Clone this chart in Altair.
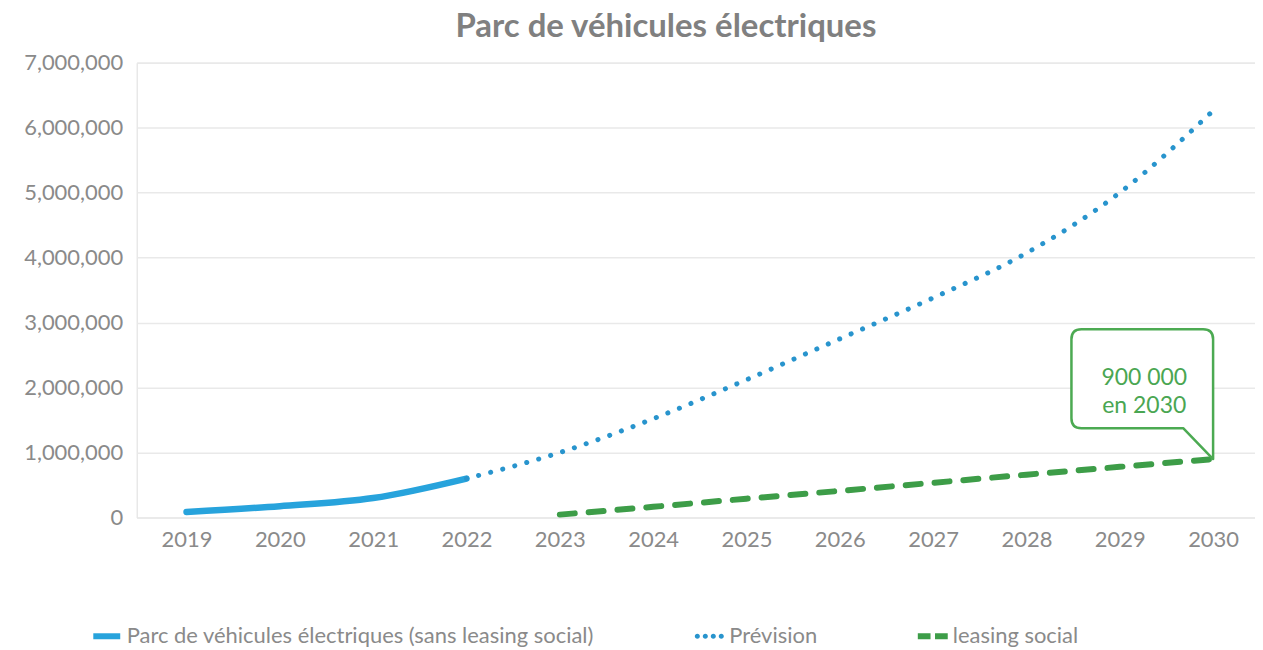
import altair as alt
import pandas as pd

# ---------------- data ----------------
title_text = "Parc de véhicules électriques"

series_names = [
    "Parc de véhicules électriques (sans leasing social)",
    "Prévision",
    "leasing social",
]
series_colors = ["#27a3dc", "#2894cd", "#3d9d48"]

hist_years = [2019, 2020, 2021, 2022]
hist_values = [85000, 175000, 300000, 600000]

prev_years = [2022, 2023, 2024, 2025, 2026, 2027, 2028, 2029, 2030]
prev_values = [600000, 1000000, 1520000, 2120000, 2750000, 3380000, 4070000, 5000000, 6260000]

leasing_years = [2023, 2024, 2025, 2026, 2027, 2028, 2029, 2030]
leasing_values = [45000, 165000, 290000, 410000, 535000, 660000, 780000, 900000]

note_years = [2030]
note_values = [900000]
note_texts = ["900 000\nen 2030"]

year_ticks = [2019, 2020, 2021, 2022, 2023, 2024, 2025, 2026, 2027, 2028, 2029, 2030]
value_ticks = [0, 1000000, 2000000, 3000000, 4000000, 5000000, 6000000, 7000000]

# ---------------- styling ----------------
FONT = "Lato"
GRAY = "#8a8a8a"
GREEN_BOX = "#4caa52"

hist_df = pd.DataFrame({"year": hist_years, "value": hist_values})
prev_df = pd.DataFrame({"year": prev_years, "value": prev_values})
leasing_df = pd.DataFrame({"year": leasing_years, "value": leasing_values})
note_df = pd.DataFrame({"year": note_years, "value": note_values, "label": note_texts})
legend_df = pd.DataFrame({"series": series_names})

x_scale = alt.Scale(domain=[2018.466, 2030.449], nice=False, zero=False)
y_scale = alt.Scale(domain=[0, 7000000], nice=False)

x_axis = alt.Axis(values=year_ticks, format="d", ticks=False, domain=False, grid=False,
                  labelPadding=12, labelFlush=False, labelOverlap=False,
                  labelFont=FONT, labelFontSize=22, labelColor=GRAY)
y_axis = alt.Axis(values=value_ticks, format=",d", ticks=False, domain=False, grid=True,
                  gridColor="#e9e9e9", gridWidth=1.5, labelPadding=14,
                  labelFont=FONT, labelFontSize=22, labelColor=GRAY)

X = alt.X("year:Q", scale=x_scale, axis=x_axis, title=None)
Y = alt.Y("value:Q", scale=y_scale, axis=y_axis, title=None)

hist_line = alt.Chart(hist_df).mark_line(
    color=series_colors[0], strokeWidth=6.5, strokeCap="round", interpolate="monotone"
).encode(x=X, y=Y)

prev_line = alt.Chart(prev_df).mark_line(
    color=series_colors[1], strokeWidth=5, strokeCap="round", strokeDash=[0.1, 12.4],
    interpolate="monotone"
).encode(x=X, y=Y)

leasing_line = alt.Chart(leasing_df).mark_line(
    color=series_colors[2], strokeWidth=6, strokeCap="round", strokeDash=[15, 14]
).encode(x=X, y=Y)

# speech-bubble callout anchored at the 2030 leasing value (tip of the bubble = data point)
bubble_path = ("M -13.2,-13.0 L -1.0,-13.0 Q 0,-13.0 0,-12.0 L 0,0 L -3.0,-3.1 "
               "L -13.2,-3.1 Q -14.2,-3.1 -14.2,-4.1 L -14.2,-12.0 Q -14.2,-13.0 -13.2,-13.0 Z")
bubble = alt.Chart(note_df).mark_point(
    shape=bubble_path, size=400, filled=True, fill="white", stroke=GREEN_BOX,
    strokeWidth=2.5, opacity=1, fillOpacity=1, strokeOpacity=1, strokeJoin="round"
).encode(x=X, y=Y)

bubble_text = alt.Chart(note_df).mark_text(
    font=FONT, fontSize=23, color="#4aa652", lineBreak="\n", lineHeight=28,
    align="center", baseline="middle", dx=-69, dy=-81
).encode(x=X, y=Y, text="label:N")

# legend symbols: solid bar, four dots, two dashes
def circle(cx, r):
    return (f"M {cx - r},0 A {r},{r} 0 1,0 {cx + r},0 A {r},{r} 0 1,0 {cx - r},0 Z")

solid_sym = "M -0.9,-0.2 L 0.9,-0.2 L 0.9,0.2 L -0.9,0.2 Z"
dots_sym = " ".join(circle(c, 0.17) for c in [-0.8, -0.267, 0.267, 0.8])
dash_sym = "M -1.0,-0.2 L -0.15,-0.2 L -0.15,0.2 L -1.0,0.2 Z M 0.15,-0.2 L 1.0,-0.2 L 1.0,0.2 L 0.15,0.2 Z"
legend_shapes = [solid_sym, dots_sym, dash_sym]

leg = alt.Legend(
    title=None, orient="none", legendX=-45, legendY=560, direction="horizontal",
    columnPadding=100, symbolSize=900, symbolStrokeWidth=0, symbolOpacity=1,
    labelFont=FONT, labelFontSize=22, labelColor=GRAY, labelLimit=800,
    labelOffset=5, padding=0,
)

legend_layer = alt.Chart(legend_df).mark_point(filled=True, opacity=0).encode(
    color=alt.Color("series:N", scale=alt.Scale(domain=series_names, range=series_colors), legend=leg),
    shape=alt.Shape("series:N", scale=alt.Scale(domain=series_names, range=legend_shapes), legend=leg),
)

chart = alt.layer(
    hist_line, prev_line, leasing_line, bubble, bubble_text, legend_layer
).properties(
    width=1121,
    height=456,
    autosize=alt.AutoSizeParams(type="none"),
    padding={"left": 129, "top": 54, "right": 0, "bottom": 132},
    title=alt.TitleParams(
        text=title_text, font=FONT, fontSize=33, fontWeight="bold", color="#808080",
        anchor="middle", dx=-30, offset=-18, baseline="alphabetic",
    ),
).configure_view(stroke=None).configure(background="white")

chart.save("out.html", embed_options={"renderer": "svg", "actions": False})
